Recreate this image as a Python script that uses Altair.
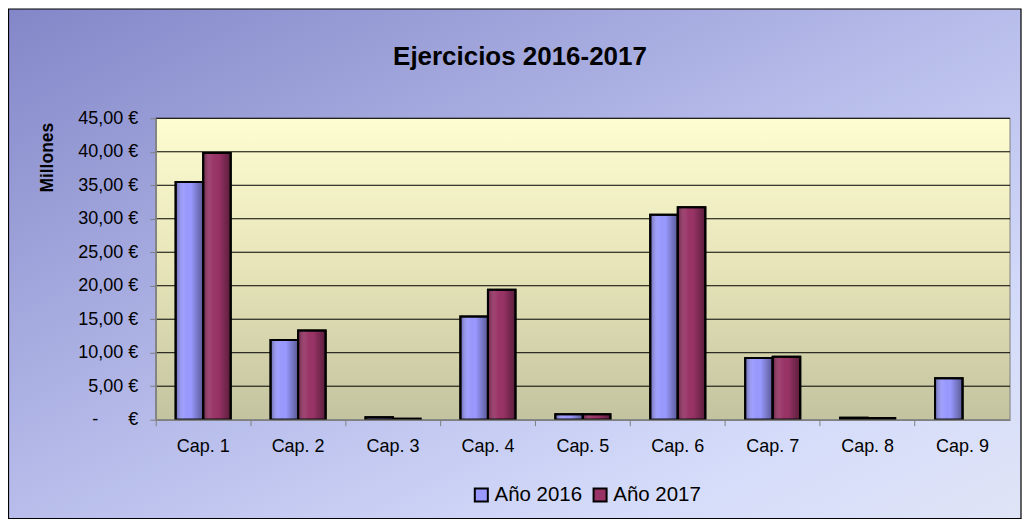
import altair as alt
import pandas as pd

caps = ["Cap. 1", "Cap. 2", "Cap. 3", "Cap. 4", "Cap. 5", "Cap. 6", "Cap. 7", "Cap. 8", "Cap. 9"]
v2016 = [35.5, 11.9, 0.35, 15.4, 0.8, 30.6, 9.2, 0.3, 6.2]
v2017 = [39.8, 13.3, 0.15, 19.4, 0.8, 31.7, 9.4, 0.25, 0.0]
series = ["Año 2016", "Año 2017"]
colors = ["#9999FF", "#993366"]
y_ticks = [0, 5, 10, 15, 20, 25, 30, 35, 40, 45]

rows = []
for c, a, b in zip(caps, v2016, v2017):
    rows.append({"cap": c, "serie": series[0], "valor": a})
    rows.append({"cap": c, "serie": series[1], "valor": b})
df = pd.DataFrame(rows)

W, H = 856, 302
PL, PT, PR, PB = 148, 110, 12, 100
FONT = "Liberation Sans"
NB = "\u00a0"

one = alt.Chart(pd.DataFrame({"k": [0]}))

outer = one.mark_rect(
    stroke="#000000", strokeWidth=1.2,
    fill=alt.Gradient(gradient="linear", x1=0, y1=0, x2=1, y2=1,
                      stops=[alt.GradientStop(color="#8387c8", offset=0),
                             alt.GradientStop(color="#b3b8e8", offset=0.45),
                             alt.GradientStop(color="#d5dcfa", offset=0.8),
                             alt.GradientStop(color="#dfe4f6", offset=1)]),
).encode(x=alt.value(-PL + 0.5), x2=alt.value(W + PR - 1), y=alt.value(-PT + 0.5), y2=alt.value(H + PB - 1))

plotbg = one.mark_rect(
    stroke="#808080", strokeWidth=1,
    fill=alt.Gradient(gradient="linear", x1=0, y1=0, x2=0, y2=1,
                      stops=[alt.GradientStop(color="#fefdd2", offset=0),
                             alt.GradientStop(color="#e6e4b8", offset=0.5),
                             alt.GradientStop(color="#c3c3a0", offset=1)]),
).encode(x=alt.value(0), x2=alt.value(W), y=alt.value(0), y2=alt.value(H))

xscale = alt.Scale(domain=caps, paddingInner=0, paddingOuter=0)
yscale = alt.Scale(domain=[0, 45], nice=False, zero=True)

label_expr = ("datum.value == 0 ? '-" + NB * 6 + "€' : "
              "replace(format(datum.value, '.2f'), '.', ',') + ' €'")

y_axis = alt.Axis(values=y_ticks, labelExpr=label_expr, labelFontSize=18,
                  labelFont=FONT, labelColor="#000000", labelPadding=12,
                  tickSize=6, tickColor="#808080", domainColor="#808080",
                  domainWidth=1.5, grid=False, zindex=2,
                  titleFont=FONT, titleFontSize=17.5, titleFontWeight="bold",
                  titleColor="#000000", titleX=-108, titleY=39,
                  titleAngle=-90, titleAlign="center", titleBaseline="middle")

grid = alt.Chart(pd.DataFrame({"t": y_ticks[1:]})).mark_rule(color="#000000", strokeWidth=1).encode(
    y=alt.Y("t:Q", scale=yscale, title="Millones", axis=y_axis), x=alt.value(0), x2=alt.value(W)
)

base = alt.Chart(df).transform_filter("datum.valor > 0")

x_axis = alt.Axis(bandPosition=0, labelAngle=0,
                  labelFontSize=18, labelFont=FONT, labelColor="#000000",
                  labelPadding=12, tickSize=6, tickColor="#808080",
                  domainColor="#808080", domainWidth=1.5, grid=False,
                  labelBound=False, zindex=2)

off_scale = alt.Scale(domain=series, paddingInner=0, paddingOuter=0.724)

bars = base.mark_bar(stroke="#000000", strokeWidth=2).encode(
    x=alt.X("cap:N", scale=xscale, sort=caps, title=None, axis=x_axis),
    xOffset=alt.XOffset("serie:N", sort=series, scale=off_scale),
    y=alt.Y("valor:Q", scale=yscale, title="Millones", axis=y_axis),
    color=alt.Color("serie:N", sort=series, scale=alt.Scale(domain=series, range=colors),
                    legend=alt.Legend(title=None, orient="none", legendX=316, legendY=367,
                                      direction="horizontal", symbolType="square",
                                      symbolSize=170, symbolStrokeColor="#000000",
                                      symbolStrokeWidth=2, symbolOpacity=1,
                                      labelFontSize=20.5, labelFont=FONT, labelColor="#000000",
                                      labelOffset=3, columnPadding=6, zindex=2)),
)

shade = base.mark_bar(
    stroke="#000000", strokeWidth=2,
    fill=alt.Gradient(gradient="linear", x1=0, y1=0, x2=1, y2=0,
                      stops=[alt.GradientStop(color="rgba(0,0,0,0.35)", offset=0),
                             alt.GradientStop(color="rgba(255,255,255,0.05)", offset=0.3),
                             alt.GradientStop(color="rgba(0,0,0,0)", offset=0.55),
                             alt.GradientStop(color="rgba(0,0,0,0.42)", offset=1)]),
).encode(
    x=alt.X("cap:N", scale=xscale, sort=caps, title=None, axis=x_axis),
    xOffset=alt.XOffset("serie:N", sort=series, scale=off_scale),
    y=alt.Y("valor:Q", scale=yscale, title="Millones", axis=y_axis),
)

chart = alt.layer(outer, plotbg, grid, bars, shade).properties(
    width=W, height=H,
    padding={"left": PL, "top": PT, "right": PR, "bottom": PB},
    autosize=alt.AutoSizeParams(type="none"),
    title=alt.TitleParams("Ejercicios 2016-2017", font=FONT, fontSize=26, fontWeight="bold",
                          color="#000000", anchor="middle", dx=-63, offset=-62, zindex=2),
).configure_view(stroke=None).configure(background="white")

chart.save("out.html", embed_options={"renderer": "svg", "actions": False})
